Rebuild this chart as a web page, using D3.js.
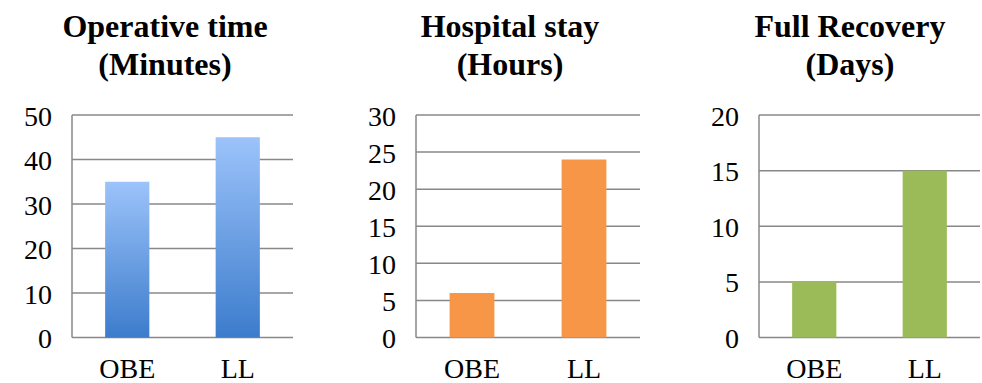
<!DOCTYPE html>
<html>
<head>
<meta charset="utf-8">
<script src="https://cdn.jsdelivr.net/npm/d3@7"></script>
<style>
  html, body { margin: 0; padding: 0; background: #ffffff; }
  svg { display: block; }
</style>
</head>
<body>
<svg id="chart" width="982" height="383"></svg>
<script>
// ---- data ----
const categories = ["OBE", "LL"];
const operativeTime = [35, 45];
const hospitalStay = [6, 24];
const fullRecovery = [5, 15];
const titles = [["Operative time", "(Minutes)"], ["Hospital stay", "(Hours)"], ["Full Recovery", "(Days)"]];
const yMaxes = [50, 30, 20];
const yTicks = [[0, 10, 20, 30, 40, 50], [0, 5, 10, 15, 20, 25, 30], [0, 5, 10, 15, 20]];

const panels = [
  { values: operativeTime, title: titles[0], yMax: yMaxes[0], ticks: yTicks[0], x0: 72, x1: 293, fill: "url(#blueGrad)", titleX: 165 },
  { values: hospitalStay, title: titles[1], yMax: yMaxes[1], ticks: yTicks[1], x0: 416, x1: 640, fill: "#F79646", titleX: 510 },
  { values: fullRecovery, title: titles[2], yMax: yMaxes[2], ticks: yTicks[2], x0: 759, x1: 980, fill: "#9BBB59", titleX: 850 }
];

const svg = d3.select("#chart");
const defs = svg.append("defs");
const grad = defs.append("linearGradient").attr("id", "blueGrad")
  .attr("x1", 0).attr("y1", 0).attr("x2", 0).attr("y2", 1);
grad.append("stop").attr("offset", "0%").attr("stop-color", "#9CC3FA");
grad.append("stop").attr("offset", "100%").attr("stop-color", "#3C7CCC");

const yTop = 115, yBottom = 337.5;
const font = '"Liberation Serif"';

panels.forEach(p => {
  const g = svg.append("g");
  const x = d3.scaleBand().domain(categories).range([p.x0, p.x1]).paddingInner(0.6).paddingOuter(0.3);
  const y = d3.scaleLinear().domain([0, p.yMax]).range([yBottom, yTop]);

  // gridlines
  g.append("g").selectAll("line").data(p.ticks).join("line")
    .attr("x1", p.x0).attr("x2", p.x1)
    .attr("y1", d => y(d)).attr("y2", d => y(d))
    .attr("stroke", "#888888").attr("stroke-width", 1.5);

  // left axis line
  g.append("line").attr("x1", p.x0).attr("x2", p.x0).attr("y1", yTop).attr("y2", yBottom)
    .attr("stroke", "#888888").attr("stroke-width", 1.5);

  // y axis labels
  const yAxis = d3.axisLeft(y).tickValues(p.ticks).tickSize(0).tickPadding(20);
  const ya = g.append("g").attr("transform", `translate(${p.x0},0)`).call(yAxis);
  ya.attr("font-family", null).attr("font-size", null);
  ya.select(".domain").remove();
  ya.selectAll("text").style("font-family", font).style("font-size", "28px").attr("fill", "#000").attr("dy", "0.36em");

  // bars
  g.append("g").selectAll("rect").data(p.values).join("rect")
    .attr("x", (d, i) => x(categories[i]))
    .attr("width", x.bandwidth())
    .attr("y", d => y(d))
    .attr("height", d => yBottom - y(d))
    .attr("fill", p.fill);

  // x axis labels
  const xAxis = d3.axisBottom(x).tickSize(0).tickPadding(0);
  const xa = g.append("g").attr("transform", `translate(0,378)`).call(xAxis);
  xa.attr("font-family", null).attr("font-size", null);
  xa.select(".domain").remove();
  xa.selectAll("text").style("font-family", font).style("font-size", "28px").attr("fill", "#000").attr("dy", 0);

  // title
  const t = g.append("text").attr("x", p.titleX).attr("text-anchor", "middle")
    .style("font-family", font).style("font-size", "32px").style("font-weight", "bold").attr("fill", "#000");
  t.append("tspan").attr("x", p.titleX).attr("y", 37).text(p.title[0]);
  t.append("tspan").attr("x", p.titleX).attr("y", 75).text(p.title[1]);
});
</script>
</body>
</html>
